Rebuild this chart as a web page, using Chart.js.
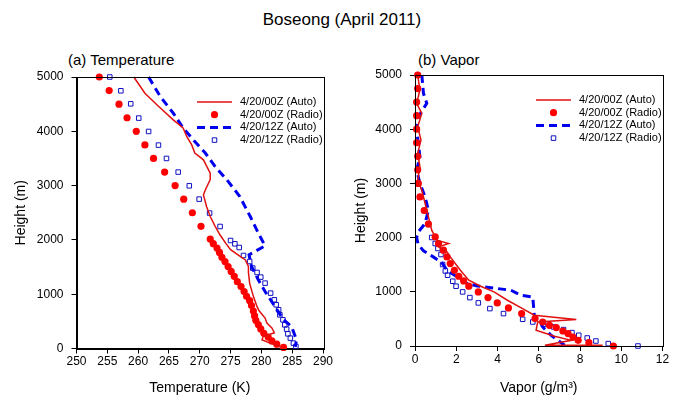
<!DOCTYPE html>
<html>
<head>
<meta charset="utf-8">
<script src="https://cdn.jsdelivr.net/npm/chart.js@4/dist/chart.umd.min.js"></script>
<style>
  html, body { margin: 0; padding: 0; background: #fff; }
  body { width: 684px; height: 410px; position: relative; overflow: hidden;
         font-family: "Liberation Sans", Arial, sans-serif; color: #000; }
  canvas { position: absolute; top: 0; }
  #tempChart { left: 0; }
  #vapChart { left: 342px; }
  .txt { position: absolute; white-space: nowrap; line-height: 1; }
  #mainTitle { top: 11px; left: 0; width: 684px; text-align: center; font-size: 17px; }
  #titleA { top: 52px; left: 68px; font-size: 15px; }
  #titleB { top: 52px; left: 418px; font-size: 15px; }
</style>
</head>
<body>
<div id="mainTitle" class="txt">Boseong (April 2011)</div>
<div id="titleA" class="txt">(a) Temperature</div>
<div id="titleB" class="txt">(b) Vapor</div>
<canvas id="tempChart" width="342" height="410"></canvas>
<canvas id="vapChart" width="342" height="410"></canvas>
<script>
// legend labels
const seriesLabels = ["4/20/00Z (Auto)", "4/20/00Z (Radio)", "4/20/12Z (Auto)", "4/20/12Z (Radio)"];

// axis ticks
const tempTicks = [250, 255, 260, 265, 270, 275, 280, 285, 290];
const vapTicks = [0, 2, 4, 6, 8, 10, 12];
const heightTicks = [0, 1000, 2000, 3000, 4000, 5000];

// (a) temperature, 4/20/00Z auto
const tAuto00Height = [5000, 4700, 4460, 4210, 4060, 3900, 3750, 3600, 3475, 3230, 3110, 2920, 2830, 2615, 2430, 2250, 2090, 1940, 1820, 1700, 1630, 1510, 1400, 1200, 960, 770, 700, 560, 470, 380, 290, 220, 160, 100, 40, 0];
const tAuto00Value = [259.3, 261.1, 263.3, 265.7, 267.3, 267.9, 268.7, 269.2, 270.6, 271.7, 271.7, 270.9, 270.6, 271.1, 271.7, 272.5, 273.3, 274.2, 275.0, 276.5, 277.4, 277.9, 277.9, 278.1, 278.7, 279.3, 279.6, 280.6, 280.9, 281.7, 282.1, 280.3, 280.1, 281.4, 283.0, 283.2];

// (a) temperature, 4/20/00Z radio
const tRadio00Height = [5000, 4750, 4500, 4250, 4000, 3750, 3500, 3250, 3000, 2750, 2500, 2250, 2015, 1930, 1850, 1770, 1680, 1600, 1510, 1420, 1330, 1230, 1140, 1050, 960, 880, 790, 690, 600, 520, 440, 360, 280, 210, 140, 80, 20];
const tRadio00Value = [253.7, 255.3, 256.9, 258.2, 259.7, 261.1, 262.5, 264.3, 266.0, 267.4, 268.8, 270.2, 271.7, 272.2, 272.8, 273.2, 273.6, 274.1, 274.6, 275.1, 275.6, 276.1, 276.7, 277.2, 277.6, 278.1, 278.4, 278.7, 278.9, 279.1, 279.5, 279.9, 280.4, 281.1, 281.7, 282.5, 283.6];

// (a) temperature, 4/20/12Z auto
const tAuto12Height = [5000, 4640, 4335, 4060, 3810, 3600, 3350, 3107, 2800, 2494, 2430, 2125, 1890, 1726, 1510, 1265, 1050, 773, 528, 405, 160, 30];
const tAuto12Value = [261.7, 263.6, 265.7, 267.3, 269.2, 270.9, 272.5, 274.4, 276.5, 277.9, 278.2, 279.5, 280.6, 278.0, 278.4, 279.5, 280.6, 282.2, 283.6, 284.9, 285.7, 285.5];

// (a) temperature, 4/20/12Z radio
const tRadio12Height = [5000, 4746, 4506, 4243, 3997, 3746, 3500, 3249, 2996, 2751, 2494, 2247, 1989, 1928, 1860, 1713, 1602, 1481, 1400, 1315, 1204, 1020, 897, 805, 713, 620, 528, 436, 357, 270, 191, 99, 37];
const tRadio12Value = [255.4, 257.2, 258.8, 260.1, 261.7, 263.3, 264.6, 266.5, 268.3, 269.9, 271.6, 273.3, 275.0, 275.7, 276.4, 277.1, 278.1, 278.6, 279.3, 279.9, 280.6, 281.5, 282.1, 282.4, 282.8, 283.0, 283.5, 283.8, 284.1, 284.3, 284.7, 285.2, 285.6];

// (b) vapor, 4/20/00Z auto
const vAuto00Height = [5000, 4723, 4477, 4292, 4046, 3800, 3553, 3307, 3061, 2876, 2630, 2383, 2137, 1952, 1891, 1829, 1736, 1644, 1398, 1214, 1103, 998, 844, 709, 567, 488, 443, 290, 179, 105, 15, 15];
const vAuto00Value = [0.13, 0.24, 0.08, 0.33, 0.13, 0.29, 0.13, 0.24, 0.13, 0.33, 0.49, 0.65, 0.81, 1.06, 1.63, 1.14, 1.55, 1.71, 2.20, 2.61, 3.18, 3.83, 4.48, 5.13, 5.78, 7.82, 5.95, 5.87, 6.76, 7.58, 6.3, 9.1];

// (b) vapor, 4/20/00Z radio
const vRadio00Height = [5000, 4750, 4500, 4250, 4000, 3750, 3500, 3250, 3000, 2750, 2500, 2250, 2013, 1891, 1768, 1644, 1521, 1398, 1287, 1201, 1103, 998, 893, 795, 702, 598, 506, 443, 382, 340, 277, 229, 166, 105, 62, 0];
const vRadio00Value = [0.13, 0.13, 0.08, 0.08, 0.08, 0.08, 0.13, 0.13, 0.16, 0.24, 0.45, 0.65, 0.98, 1.14, 1.38, 1.55, 1.71, 1.91, 2.12, 2.36, 2.61, 3.07, 3.54, 3.99, 4.53, 5.17, 5.82, 6.19, 6.52, 6.85, 7.17, 7.42, 7.66, 7.91, 8.43, 9.62];

// (b) vapor, 4/20/12Z auto
const vAuto12Height = [5000, 4662, 4477, 4230, 3984, 3738, 3491, 3245, 2999, 2752, 2507, 2261, 2100, 2000, 1880, 1760, 1640, 1540, 1400, 1275, 1152, 1108, 1060, 1029, 937, 905, 536, 475, 351, 198, 105, 13];
const vAuto12Value = [0.33, 0.41, 0.57, 0.16, 0.08, 0.16, 0.24, 0.08, 0.24, 0.49, 0.65, 0.49, 0.15, 0.08, 0.15, 0.4, 0.9, 1.3, 1.55, 2.04, 2.53, 3.02, 4.0, 4.65, 5.13, 5.71, 5.79, 6.03, 6.19, 6.60, 6.93, 7.25];

// (b) vapor, 4/20/12Z radio
const vRadio12Height = [5000, 4750, 4500, 4250, 4000, 3750, 3500, 3250, 3000, 2750, 2500, 2248, 2002, 1891, 1799, 1688, 1503, 1385, 1306, 1195, 1103, 998, 893, 795, 690, 598, 493, 443, 400, 351, 303, 247, 198, 148, 92, 44, 0];
const vRadio12Value = [0.13, 0.13, 0.08, 0.08, 0.08, 0.08, 0.13, 0.13, 0.16, 0.24, 0.45, 0.65, 0.81, 0.98, 1.11, 1.26, 1.34, 1.47, 1.58, 1.83, 1.99, 2.31, 2.66, 3.07, 3.63, 4.29, 5.22, 5.71, 6.23, 6.73, 7.20, 7.61, 7.94, 8.35, 8.77, 9.37, 10.81];

const FONT = "'Liberation Sans', Arial, sans-serif";
const RED_LINE = "#e01010";
const RED = "#ff0000";
const BLUE = "#0000ee";
const BLUE_SQ = "#1010c0";

const toPoints = (heights, values) => heights.map((h, i) => ({ x: values[i], y: h }));

const makeDatasets = (a00h, a00v, r00h, r00v, a12h, a12v, r12h, r12v) => [
  {
    label: seriesLabels[0], data: toPoints(a00h, a00v), showLine: true,
    borderColor: RED_LINE, borderWidth: 1.5, pointRadius: 0, tension: 0, clip: false
  },
  {
    label: seriesLabels[1], data: toPoints(r00h, r00v), showLine: false,
    pointStyle: "circle", pointRadius: 3.6, pointBackgroundColor: RED, pointBorderColor: RED,
    pointBorderWidth: 0, clip: false
  },
  {
    label: seriesLabels[2], data: toPoints(a12h, a12v), showLine: true,
    borderColor: BLUE, borderWidth: 3, borderDash: [8, 5], pointRadius: 0, tension: 0, clip: false
  },
  {
    label: seriesLabels[3], data: toPoints(r12h, r12v), showLine: false,
    pointStyle: "rect", pointRadius: 3.2, pointBackgroundColor: "rgba(0,0,0,0)", pointBorderColor: BLUE_SQ,
    pointBorderWidth: 1, clip: false
  }
];

// box frame around the plot area plus an inset legend
const frameAndLegend = {
  id: "frameAndLegend",
  afterDraw(chart, args, opts) {
    const { ctx, chartArea: a } = chart;
    ctx.save();
    ctx.strokeStyle = "#000";
    ctx.lineWidth = 1;
    ctx.strokeRect(Math.round(a.left) + 0.5, Math.round(a.top) + 0.5,
      Math.round(a.right - a.left), Math.round(a.bottom - a.top));

    ctx.font = "11px " + FONT;
    ctx.textBaseline = "middle";
    chart.data.datasets.forEach((ds, i) => {
      const y = opts.y + i * opts.row;
      if (ds.showLine) {
        ctx.strokeStyle = ds.borderColor;
        ctx.lineWidth = ds.borderWidth;
        ctx.setLineDash(ds.borderDash || []);
        ctx.beginPath();
        ctx.moveTo(opts.x, y);
        ctx.lineTo(opts.x + opts.w, y);
        ctx.stroke();
        ctx.setLineDash([]);
      } else {
        ctx.fillStyle = ds.pointBackgroundColor;
        ctx.strokeStyle = ds.pointBorderColor;
        ctx.lineWidth = ds.pointBorderWidth;
        Chart.helpers.drawPoint(ctx, {
          pointStyle: ds.pointStyle, radius: ds.pointRadius,
          borderWidth: ds.pointBorderWidth, rotation: 0
        }, opts.x + opts.w / 2, y);
      }
      ctx.fillStyle = "#000";
      ctx.fillText(ds.label, opts.x + opts.w + opts.gap, y);
    });
    ctx.restore();
  }
};

const makeChart = (id, datasets, cfg) => new Chart(document.getElementById(id), {
  type: "scatter",
  data: { datasets },
  plugins: [frameAndLegend],
  options: {
    responsive: false,
    animation: false,
    events: [],
    layout: { padding: { top: cfg.top, right: cfg.right, left: 0, bottom: 0 } },
    plugins: {
      legend: { display: false },
      tooltip: { enabled: false },
      frameAndLegend: cfg.legend
    },
    scales: {
      x: {
        type: "linear", min: cfg.xTicks[0], max: cfg.xTicks[cfg.xTicks.length - 1],
        afterBuildTicks: (s) => { s.ticks = cfg.xTicks.map((v) => ({ value: v })); },
        afterFit: (s) => { s.height = 410 - cfg.bottom; },
        grid: { drawOnChartArea: false, color: "#000", tickLength: 5 },
        border: { display: true, color: "#000" },
        ticks: { color: "#000", padding: 1, font: { family: FONT, size: 12 }, callback: (v) => String(v) },
        title: {
          display: true, text: cfg.xTitle, color: "#000",
          font: { family: FONT, size: 14 }, padding: { top: 0, bottom: 13 }
        }
      },
      y: {
        type: "linear", min: 0, max: 5000,
        afterBuildTicks: (s) => { s.ticks = heightTicks.map((v) => ({ value: v })); },
        afterFit: (s) => { s.width = cfg.left; },
        grid: { drawOnChartArea: false, color: "#000", tickLength: 5 },
        border: { display: true, color: "#000" },
        ticks: { color: "#000", padding: 8, font: { family: FONT, size: 12 }, callback: (v) => String(v) },
        title: {
          display: true, text: "Height (m)", color: "#000",
          font: { family: FONT, size: 14 }, padding: { top: cfg.yTitlePad, bottom: 0 }
        }
      }
    }
  }
});

makeChart("tempChart",
  makeDatasets(tAuto00Height, tAuto00Value, tRadio00Height, tRadio00Value,
    tAuto12Height, tAuto12Value, tRadio12Height, tRadio12Value),
  {
    xTicks: tempTicks, xTitle: "Temperature (K)",
    left: 76.5, top: 77, right: 19, bottom: 348.5, yTitlePad: 13,
    legend: { x: 197, y: 102, row: 12.7, w: 35, gap: 8 }
  });

makeChart("vapChart",
  makeDatasets(vAuto00Height, vAuto00Value, vRadio00Height, vRadio00Value,
    vAuto12Height, vAuto12Value, vRadio12Height, vRadio12Value),
  {
    xTicks: vapTicks, xTitle: "Vapor (g/m\u00b3)",
    left: 73, top: 75, right: 21.5, bottom: 346, yTitlePad: 11,
    legend: { x: 194, y: 100, row: 12.7, w: 35, gap: 8 }
  });
</script>
</body>
</html>
